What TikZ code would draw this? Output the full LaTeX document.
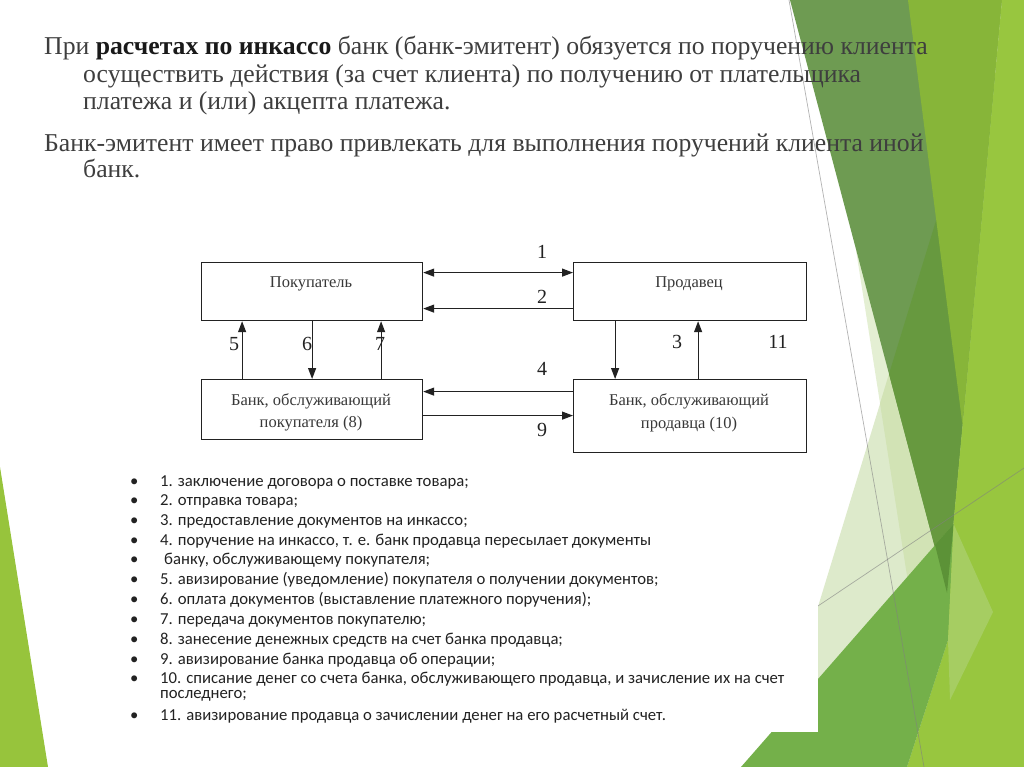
\documentclass[tikz,border=0pt]{standalone}
\usepackage{fontspec}
\setmainfont{Liberation Serif}
\newfontfamily\listfont{Carlito}
\usetikzlibrary{arrows.meta}
\definecolor{titlegray}{HTML}{3E3E3E}
\definecolor{gLime}{HTML}{98C63F}
\definecolor{gDark}{HTML}{6E9B52}
\definecolor{gDarker}{HTML}{67993F}
\definecolor{gMid}{HTML}{87B539}
\definecolor{gPaleA}{HTML}{E4EFD3}
\definecolor{gPaleB}{HTML}{DDEACB}
\definecolor{gPaleAB}{HTML}{D2E3B5}
\definecolor{gMedium}{HTML}{74B04A}
\definecolor{gTip}{HTML}{5C9237}
\definecolor{gPatch}{HTML}{A6CD62}
\definecolor{gLeft}{HTML}{97C43C}
\definecolor{ink}{HTML}{222222}
\begin{document}
\begin{tikzpicture}[x=1pt,y=-1pt,
  boxst/.style={draw=ink,line width=1.2pt,fill=white,inner sep=0pt},
  conn/.style={draw=ink,line width=1.2pt},
  arr/.style={conn,-{Triangle[length=11pt,width=8pt]}},
  darr/.style={conn,{Triangle[length=11pt,width=8pt]}-{Triangle[length=11pt,width=8pt]}},
  num/.style={font=\fontsize{20}{22}\selectfont, text=ink, inner sep=0pt},
  blbl/.style={font=\fontsize{16.5}{21}\selectfont, text=ink!90, inner sep=0pt, anchor=base},
  ttl/.style={font=\fontsize{25.7}{28}\selectfont, text=titlegray, inner sep=0pt, anchor=base west},
  item/.style={font=\listfont\fontsize{16.7}{18}\selectfont, text=ink, inner sep=0pt, anchor=base west},
  thinline/.style={draw=gray, opacity=0.6, line width=0.7pt}
]
\useasboundingbox (0,0) rectangle (1024,767);
\fill[white] (0,0) rectangle (1024,767);
% ---- green decoration ----
\fill[gLeft] (0,467) -- (0,767) -- (48,767) -- cycle;
\fill[gPaleA] (856,250) -- (960,600) -- (937,767) -- cycle;
\fill[gPaleB] (953,165) -- (1010,300) -- (950,600) -- (940,767) -- (769,767) -- cycle;
\fill[gPaleAB] (880,403.5) -- (889,374) -- (960,600) -- (937,767) -- cycle;
\fill[gDark] (790,0) -- (1002,0) -- (947,593) -- cycle;
\fill[gDarker] (889,374) -- (980,77) -- (995,77) -- (947,593) -- cycle;
\fill[gMid] (908,0) -- (1002,0) -- (962.5,425) -- cycle;
\fill[gLime] (1002,0) -- (1024,0) -- (1024,767) -- (907,767) -- (948,640) -- (947,593) -- cycle;
\fill[gMedium] (741,767) -- (953.6,524) -- (948,640) -- (907,767) -- cycle;
\fill[gTip] (935,545) -- (953.6,524) -- (947,593) -- cycle;
\fill[gPatch] (953.6,524) -- (993,612) -- (950,700) -- (948,640) -- cycle;
\draw[thinline] (789,0) -- (924,767);
\draw[thinline] (1024,468) -- (700,685);
\fill[white] (118,455) rectangle (818,732);
% ---- title ----
\node[ttl] (t1) at (44,55) {При \textbf{\color{black!90}расчетах по инкассо} банк (банк-эмитент) обязуется по поручению клиента};
\node[ttl] (t2) at (83,83) {осуществить действия (за счет клиента) по получению от плательщика};
\node[ttl] (t3) at (83,110) {платежа и (или) акцепта платежа.};
\node[ttl] (t4) at (44,152) {Банк-эмитент имеет право привлекать для выполнения поручений клиента иной};
\node[ttl] (t5) at (83,178) {банк.};
% ---- diagram ----
\node[boxst, minimum width=221pt, minimum height=58pt, anchor=north west] (buyer) at (201,262) {};
\node[boxst, minimum width=233pt, minimum height=58pt, anchor=north west] (seller) at (573,262) {};
\node[boxst, minimum width=221pt, minimum height=60pt, anchor=north west] (bbank) at (201,379) {};
\node[boxst, minimum width=233pt, minimum height=73pt, anchor=north west] (sbank) at (573,379) {};
\node[blbl] (buyerT) at (311,287) {Покупатель};
\node[blbl] (sellerT) at (689,287) {Продавец};
\node[blbl] (bbankT1) at (311,405) {Банк, обслуживающий};
\node[blbl] (bbankT2) at (311,427) {покупателя (8)};
\node[blbl] (sbankT1) at (689,405) {Банк, обслуживающий};
\node[blbl] (sbankT2) at (689,428) {продавца (10)};
\draw[darr] ([yshift=19pt]buyer.east) -- ([yshift=19pt]seller.west);
\draw[arr] ([yshift=-17pt]seller.west) -- ([yshift=-17pt]buyer.east);
\coordinate (a4) at ([yshift=18pt]bbank.east);
\draw[arr] (sbank.west |- a4) -- (a4);
\coordinate (a9) at ([yshift=-6pt]bbank.east);
\draw[arr] (a9) -- (sbank.west |- a9);
\draw[arr] ([xshift=-70pt]bbank.north) -- ([xshift=-70pt]buyer.south);
\draw[arr] (buyer.south) -- (bbank.north);
\draw[arr] ([xshift=69pt]bbank.north) -- ([xshift=69pt]buyer.south);
\draw[arr] ([xshift=-75pt]seller.south) -- ([xshift=-75pt]sbank.north);
\draw[arr] ([xshift=8pt]sbank.north) -- ([xshift=8pt]seller.south);
\node[num] (n1) at (542,252) {1};
\node[num] (n2) at (542,297) {2};
\node[num] (n4) at (542,369) {4};
\node[num] (n9) at (542,430) {9};
\node[num] (n3) at (677,342) {3};
\node[num] (n11) at (778,342) {11};
\node[num] (n5) at (234,344) {5};
\node[num] (n6) at (307,344) {6};
\node[num] (n7) at (380,344) {7};
% ---- list ----
\node[item] (b1) at (130,486) {•}; \node[item] (i1) at (160,486) {1. заключение договора о поставке товара;};
\node[item] (b2) at (130,505) {•}; \node[item] (i2) at (160,505) {2. отправка товара;};
\node[item] (b3) at (130,525) {•}; \node[item] (i3) at (160,525) {3. предоставление документов на инкассо;};
\node[item] (b4) at (130,545) {•}; \node[item] (i4) at (160,545) {4. поручение на инкассо, т. е. банк продавца пересылает документы};
\node[item] (b4b) at (130,564) {•}; \node[item] (i4b) at (164,564) {банку, обслуживающему покупателя;};
\node[item] (b5) at (130,584) {•}; \node[item] (i5) at (160,584) {5. авизирование (уведомление) покупателя о получении документов;};
\node[item] (b6) at (130,604) {•}; \node[item] (i6) at (160,604) {6. оплата документов (выставление платежного поручения);};
\node[item] (b7) at (130,624) {•}; \node[item] (i7) at (160,624) {7. передача документов покупателю;};
\node[item] (b8) at (130,644) {•}; \node[item] (i8) at (160,644) {8. занесение денежных средств на счет банка продавца;};
\node[item] (b9) at (130,664) {•}; \node[item] (i9) at (160,664) {9. авизирование банка продавца об операции;};
\node[item] (b10) at (130,683) {•}; \node[item] (i10) at (160,683) {10. списание денег со счета банка, обслуживающего продавца, и зачисление их на счет};
\node[item] (i10b) at (160,698) {последнего;};
\node[item] (b11) at (130,720) {•}; \node[item] (i11) at (160,720) {11. авизирование продавца о зачислении денег на его расчетный счет.};
\end{tikzpicture}
\end{document}
